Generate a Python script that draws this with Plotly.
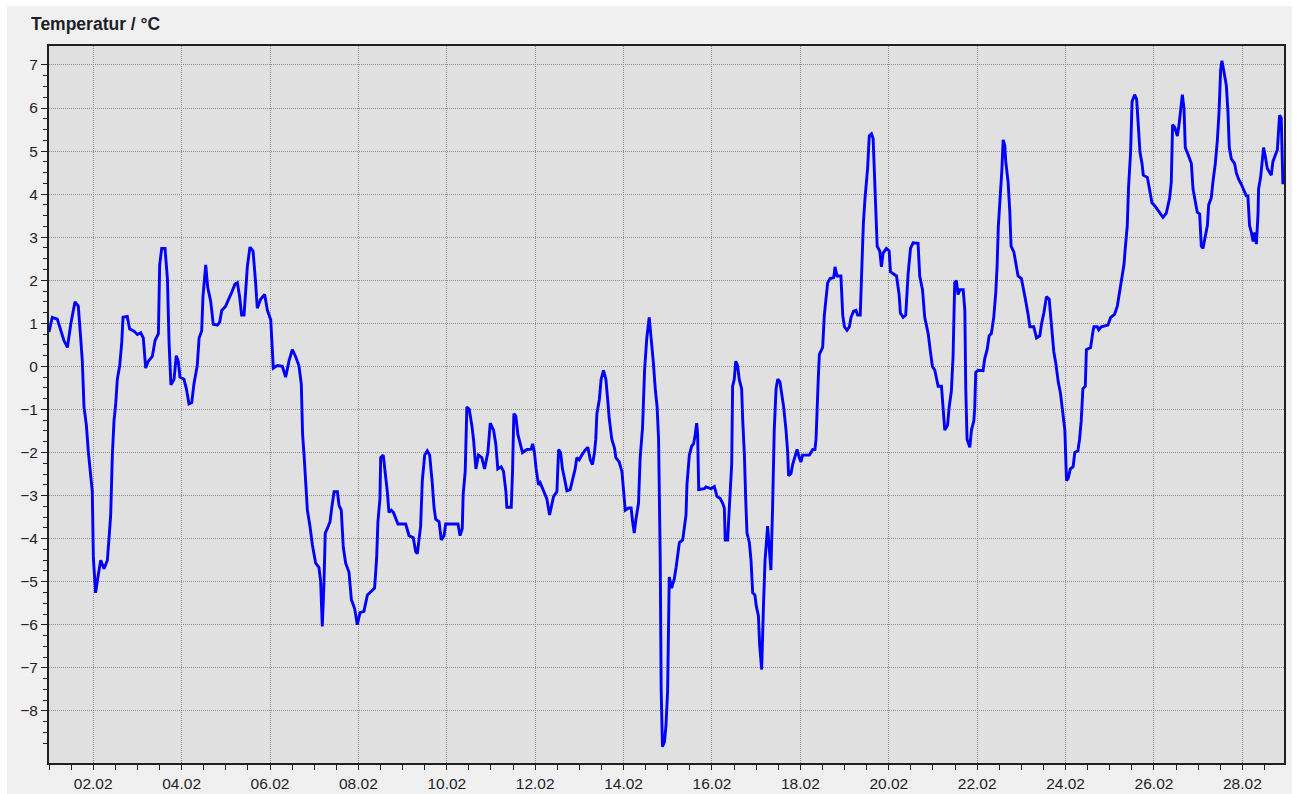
import pandas as pd
import plotly.graph_objects as go

# Hours since 01.02 00:00 and temperature in °C
hours = [
    0.0, 1.8, 4.5, 6.3, 8.1, 10.0, 11.8, 14.1, 15.9, 17.2, 18.1, 19.0, 20.3, 21.4, 22.6, 23.5, 24.1, 25.3, 26.8, 28.1,
    29.9, 31.7, 32.6, 33.5, 34.4, 35.3, 36.2, 37.1, 38.4, 39.5, 40.2, 42.5, 43.8, 46.2, 48.0, 49.8, 51.2, 52.5, 53.9, 56.1,
    57.6, 59.4, 60.1, 61.2, 63.0, 64.3, 65.2, 66.2, 67.9, 69.1, 70.2, 71.1, 73.3, 74.6, 76.0, 77.5, 78.7, 80.5, 81.5, 82.9,
    83.6, 85.1, 86.2, 87.8, 89.2, 91.4, 92.7, 93.8, 95.9, 97.7, 99.2, 101.0, 102.3, 103.5, 104.6, 105.9, 106.8, 107.7, 109.1, 110.8,
    112.2, 113.1, 114.9, 117.1, 118.6, 120.4, 121.8, 124.0, 126.7, 128.5, 130.3, 132.1, 133.9, 135.7, 137.0, 137.7, 138.5, 139.4, 140.3, 141.7,
    143.0, 144.8, 146.6, 147.5, 148.4, 149.3, 150.0, 151.1, 152.6, 153.5, 154.8, 156.6, 157.5, 158.7, 159.8, 161.1, 162.9, 164.2, 166.0, 167.4,
    168.9, 171.0, 172.9, 175.6, 176.8, 177.9, 178.6, 179.7, 180.1, 181.5, 182.8, 183.7, 184.6, 185.9, 187.0, 188.2, 189.5, 193.7, 195.5, 197.8,
    199.1, 200.0, 200.9, 201.8, 202.7, 204.0, 205.4, 206.7, 208.1, 209.1, 210.0, 211.8, 213.0, 214.5, 215.4, 222.1, 223.2, 224.4,
    224.9, 226.0, 226.9, 228.2, 229.6, 230.5, 231.8, 233.2, 235.0, 236.5, 238.3, 239.6, 241.4, 242.6, 243.7, 245.5, 246.8, 248.1, 248.6, 251.0,
    251.7, 252.4, 253.5, 254.6, 255.9, 257.1, 259.5, 261.8, 262.6, 263.6, 264.5, 265.8, 266.7, 268.5, 270.3, 271.8, 273.1, 274.0, 275.8, 276.7,
    277.8, 278.8, 279.9, 281.2, 283.0, 284.3, 285.7, 286.6, 287.9, 289.3, 290.8, 292.6, 293.9, 295.1, 296.2, 296.9, 297.5, 298.8, 299.8, 301.1,
    302.4, 303.5, 304.2, 305.6, 307.1, 307.8, 309.6, 311.1, 312.0, 312.9, 314.7, 316.1, 316.9, 317.8, 318.7, 320.1, 321.0, 322.3, 323.4, 324.6,
    325.9, 327.0, 328.1, 329.2, 330.2, 331.0, 331.9, 332.4, 333.1, 334.2,
    335.0, 335.9, 336.3, 336.8, 338.1, 339.5, 340.5, 341.4, 342.3, 344.1, 345.0, 345.9, 346.4, 347.7, 349.0, 350.0, 350.9, 351.7, 352.2, 352.8,
    355.8, 356.7, 359.5, 361.3, 362.7, 364.5, 365.8, 366.7, 367.2, 368.5, 369.4, 370.0, 370.7, 371.2, 372.1, 372.9, 373.9, 374.8, 376.1, 376.7,
    377.6, 378.3, 379.0, 380.3, 381.2, 382.1, 383.3, 384.1, 385.2, 385.9, 387.0, 387.9, 388.8, 390.2, 391.1, 392.0, 392.9, 393.8, 394.8, 395.7,
    396.9, 397.8, 398.9, 400.2, 401.1, 401.6, 402.9, 403.8, 405.1, 406.2, 407.4, 408.3, 409.2, 412.9, 414.7, 415.9, 416.5, 417.0, 417.7, 418.3,
    420.1, 421.0, 421.9, 422.8, 424.1, 426.1, 426.8, 427.9, 430.0, 431.0, 431.9, 433.3, 434.6, 435.5, 436.9, 438.2, 439.1, 440.5, 441.3, 442.2,
    443.1, 444.0, 444.5, 445.4, 446.6,
    447.5, 448.4, 448.9, 449.7, 451.1, 452.0, 452.9, 454.7, 456.2, 456.9, 458.4, 460.2, 461.6, 462.3, 463.8, 465.2, 466.5, 467.8, 469.2, 471.9,
    472.8, 474.3, 475.5, 477.4, 478.6, 479.7, 481.0, 482.8, 484.6, 485.5, 486.4, 487.9, 488.8, 490.0, 490.9, 491.8, 492.7, 493.6, 494.6, 496.4,
    497.3, 497.8, 498.5, 500.0, 500.9, 502.2, 502.7, 503.2, 504.5, 507.2, 508.1, 509.4, 510.5, 511.7, 513.0, 514.1, 514.8, 515.5, 516.6, 517.4,
    518.1, 519.0, 519.5, 520.8, 521.7, 522.4, 523.9, 525.0, 526.2, 528.0, 529.3, 530.4, 531.7, 532.6, 534.7, 536.2, 538.0, 538.9, 540.2, 541.6,
    543.1, 544.3, 545.6, 546.7, 548.0, 549.2, 550.3, 551.6, 552.5, 553.4, 554.6, 556.1, 557.0,
    558.7, 559.6, 560.5, 561.4, 562.7, 563.3, 565.6, 566.9, 567.4, 569.2, 570.0, 571.4, 575.0, 576.5, 578.6, 580.1, 581.4, 582.3, 583.7, 584.4,
    585.5, 586.2, 587.3, 588.1, 589.5, 590.6, 591.3, 592.4, 593.5, 594.2, 596.4, 597.6, 598.9, 600.4, 601.8, 603.6, 604.9, 606.7, 608.5, 609.4,
    610.1, 611.2, 612.7, 613.6, 614.5, 615.4, 616.3, 617.0, 618.5, 620.3, 621.2, 622.4, 623.5, 624.8, 625.7, 626.6, 627.9, 629.0, 629.7, 631.1,
    632.0, 633.3, 634.4, 635.3, 636.2, 636.9, 638.0, 639.3, 640.2, 640.9, 642.0, 643.8, 644.7, 646.0, 647.4, 648.9, 650.1, 651.0, 651.9, 652.9,
    653.8, 654.7, 655.6, 656.5, 656.8, 657.9, 658.6, 659.5, 660.5, 661.5, 662.8, 663.7, 664.6, 665.9, 667.0, 667.7, 668.2, 669.1, 669.7, 670.0,
]

temps = [
    0.8, 1.14, 1.1, 0.87, 0.6, 0.44, 0.98, 1.5, 1.4, 0.66, 0.12, -0.94, -1.37, -2.0, -2.49, -2.9, -4.46, -5.26, -4.83, -4.5,
    -4.7, -4.5, -3.98, -3.45, -2.06, -1.26, -0.89, -0.3, 0.02, 0.55, 1.14, 1.16, 0.87, 0.82, 0.74, 0.78, 0.66, -0.04, 0.12, 0.23,
    0.6, 0.76, 2.36, 2.74, 2.74, 2.04, 0.55, -0.43, -0.3, 0.25, 0.12, -0.25, -0.3, -0.52, -0.87, -0.84, -0.41, 0.02, 0.66, 0.82,
    1.62, 2.36, 1.83, 1.51, 0.98, 0.96, 1.03, 1.3, 1.4, 1.56, 1.72, 1.91, 1.94, 1.62, 1.19, 1.19, 1.67, 2.31, 2.77, 2.68,
    1.94, 1.35, 1.56, 1.67, 1.3, 1.08, -0.04, 0.02, 0.0, -0.25, 0.12, 0.39, 0.23, 0.02, -0.41, -1.58, -2.06, -2.75, -3.34, -3.71,
    -4.14, -4.57, -4.67, -4.99, -6.04, -5.05, -3.87, -3.77, -3.61, -3.29, -2.91, -2.91, -3.23, -3.34, -4.2, -4.57, -4.78, -5.42, -5.63, -6.0,
    -5.72, -5.69, -5.31, -5.2, -5.15, -4.46, -3.61, -3.07, -2.12, -2.06, -2.49, -2.91, -3.39, -3.34, -3.39, -3.5, -3.66, -3.66, -3.93, -3.98,
    -4.3, -4.35, -4.03, -3.71, -2.65, -2.06, -1.96, -2.06, -2.7, -3.29, -3.55, -3.61, -4.03, -3.93, -3.66, -3.66, -3.93, -3.77,
    -2.97, -2.44, -0.94, -1.0, -1.37, -1.69, -2.38, -2.06, -2.12, -2.38, -2.0, -1.32, -1.48, -1.8, -2.38, -2.33, -2.44, -2.91, -3.27, -3.27,
    -2.44, -1.1, -1.16, -1.58, -1.8, -2.0, -1.93, -1.92, -1.8, -2.0, -2.38, -2.75, -2.7, -2.91, -3.07, -3.45, -3.18, -3.02, -2.91, -1.93,
    -2.0, -2.38, -2.6, -2.89, -2.86, -2.65, -2.38, -2.12, -2.17, -2.06, -1.96, -1.88, -2.17, -2.28, -2.0, -1.69, -1.1, -0.78, -0.3, -0.09,
    -0.3, -0.84, -1.21, -1.69, -1.9, -2.12, -2.22, -2.44, -3.02, -3.34, -3.29, -3.29, -3.61, -3.87, -3.55, -3.18, -2.12, -1.42, -0.09, 0.66,
    1.14, 0.66, 0.12, -0.52, -0.94, -1.69, -4.51, -7.5, -8.83, -8.72,
    -8.35, -7.55, -6.06, -4.89, -5.15, -4.94, -4.67, -4.41, -4.09, -4.03, -3.77, -3.45, -2.75, -2.06, -1.85, -1.8, -1.58, -1.32, -1.58, -2.86,
    -2.84, -2.8, -2.84, -2.79, -3.02, -3.07, -3.18, -3.29, -4.03, -4.03, -3.29, -2.75, -2.28, -0.46, -0.3, 0.12, 0.02, -0.3, -0.52, -1.26,
    -2.06, -3.07, -3.87, -4.09, -4.51, -5.26, -5.31, -5.58, -5.79, -6.49, -7.04, -5.63, -4.51, -3.71, -4.35, -4.73, -3.29, -1.48, -0.52, -0.3,
    -0.36, -0.62, -0.94, -1.48, -2.0, -2.54, -2.49, -2.28, -2.06, -1.93, -2.12, -2.22, -2.06, -2.06, -1.93, -1.93, -1.69, -0.89, -0.3, 0.28,
    0.44, 1.19, 1.51, 1.94, 2.04, 2.06, 2.31, 2.1, 2.1, 1.19, 0.92, 0.84, 0.92, 1.14, 1.28, 1.3, 1.19, 1.19, 2.2, 3.32,
    3.91, 4.28, 4.6, 5.35, 5.4,
    5.29, 4.12, 3.48, 2.79, 2.68, 2.31, 2.63, 2.74, 2.68, 2.2, 2.15, 2.1, 1.67, 1.24, 1.14, 1.19, 2.15, 2.74, 2.87, 2.86,
    2.1, 1.78, 1.14, 0.76, 0.34, 0.0, -0.09, -0.46, -0.46, -1.1, -1.48, -1.37, -0.94, -0.57, 0.23, 1.94, 1.99, 1.67, 1.78, 1.78,
    1.3, -0.52, -1.69, -1.88, -1.48, -1.26, -0.94, -0.14, -0.09, -0.1, 0.18, 0.39, 0.71, 0.76, 1.14, 1.72, 2.31, 3.27, 3.96, 4.55,
    5.26, 5.13, 4.76, 4.28, 3.59, 2.79, 2.66, 2.36, 2.1, 2.04, 1.78, 1.51, 1.19, 0.92, 0.92, 0.66, 0.71, 0.98, 1.24, 1.62,
    1.56, 1.03, 0.34, 0.07, -0.36, -0.62, -1.05, -1.48, -2.65, -2.6, -2.38, -2.33, -2.0,
    -1.96, -1.69, -1.26, -0.52, -0.46, 0.39, 0.44, 0.82, 0.92, 0.92, 0.85, 0.92, 0.96, 1.14, 1.21, 1.4, 1.72, 1.99, 2.36, 2.74,
    3.27, 4.17, 4.97, 6.15, 6.31, 6.2, 5.61, 4.97, 4.71, 4.44, 4.39, 4.12, 3.8, 3.73, 3.64, 3.54, 3.46, 3.56, 3.91, 4.28,
    5.61, 5.56, 5.35, 5.61, 5.99, 6.31, 5.99, 5.08, 4.92, 4.71, 4.12, 3.8, 3.58, 3.54, 2.79, 2.74, 3.0, 3.27, 3.75, 3.91,
    4.28, 4.71, 5.24, 5.88, 6.89, 7.1, 6.84, 6.52, 5.88, 5.08, 4.82, 4.71, 4.5, 4.34, 4.23, 4.07, 3.96, 3.96, 3.27, 3.11,
    2.9, 3.11, 2.84, 3.54, 4.12, 4.39, 4.66, 5.08, 4.86, 4.6, 4.5, 4.44, 4.76, 4.92, 5.03, 5.51, 5.83, 5.77, 5.03, 4.23,
]

start = pd.Timestamp("2023-02-01 00:00")
x_end = "2023-02-28 22:36"
y_range = [-9.21, 7.44]
y_ticks = list(range(-8, 8))
y_minor_ticks = [t / 4 for t in range(-35, 28) if t % 4 != 0]
title_text = "Temperatur / °C"

times = start + pd.to_timedelta(hours, unit="h")

fig = go.Figure()
fig.add_trace(go.Scatter(
    x=times, y=temps, mode="lines",
    line=dict(color="#0000ff", width=2.9),
    hoverinfo="x+y",
))

tick_font = dict(family="Liberation Sans, Arial, sans-serif", size=15.5, color="#1e1e28")
grid_dash = "1px,1px"

fig.update_layout(
    width=1299, height=794,
    margin=dict(l=49, r=15, t=46, b=31, autoexpand=False),
    paper_bgcolor="#f0f0f0",
    plot_bgcolor="#e0e0e0",
    showlegend=False,
    xaxis=dict(
        type="date",
        range=[start, x_end],
        tick0="2023-02-02",
        dtick=2 * 86400000,
        tickformat="%d.%m",
        ticks="outside", ticklen=5, tickcolor="#202020", tickwidth=1,
        minor=dict(dtick=43200000, ticks="outside", ticklen=5, tickcolor="#202020", showgrid=False),
        showgrid=True, gridcolor="#8c8c8c", gridwidth=1, griddash=grid_dash,
        showline=True, linecolor="#202020", linewidth=2, mirror=True,
        zeroline=False, automargin=False,
        tickfont=tick_font,
    ),
    yaxis=dict(
        range=y_range,
        tickmode="array", tickvals=y_ticks,
        ticks="outside", ticklen=6, tickcolor="#202020", tickwidth=1,
        minor=dict(tickmode="array", tickvals=y_minor_ticks, ticks="outside", ticklen=4,
                   tickcolor="#202020", showgrid=False),
        showgrid=True, gridcolor="#8c8c8c", gridwidth=1, griddash=grid_dash,
        showline=True, linecolor="#202020", linewidth=2, mirror=True,
        zeroline=False, automargin=False,
        tickfont=tick_font,
    ),
    shapes=[
        # white frame around the light-gray panel
        dict(type="rect", xref="paper", yref="paper", x0=-0.05, x1=-0.034, y0=-0.1, y1=1.1,
             fillcolor="white", line=dict(width=0), layer="below"),
        dict(type="rect", xref="paper", yref="paper", x0=-0.05, x1=1.05, y0=1.0558, y1=1.1,
             fillcolor="white", line=dict(width=0), layer="below"),
        dict(type="rect", xref="paper", yref="paper", x0=1.0065, x1=1.05, y0=-0.1, y1=1.1,
             fillcolor="white", line=dict(width=0), layer="below"),
    ],
    annotations=[
        dict(text="<b>" + title_text + "</b>", xref="paper", yref="paper",
             x=-0.0162, y=1.0307, xanchor="left", yanchor="middle", showarrow=False,
             font=dict(family="Liberation Sans, Arial, sans-serif", size=17.5, color="#1e1e28")),
    ],
)

fig.write_html(
    "out.html",
    config={"displayModeBar": False},
    post_script="document.body.style.margin='0';document.body.style.overflow='hidden';",
)
